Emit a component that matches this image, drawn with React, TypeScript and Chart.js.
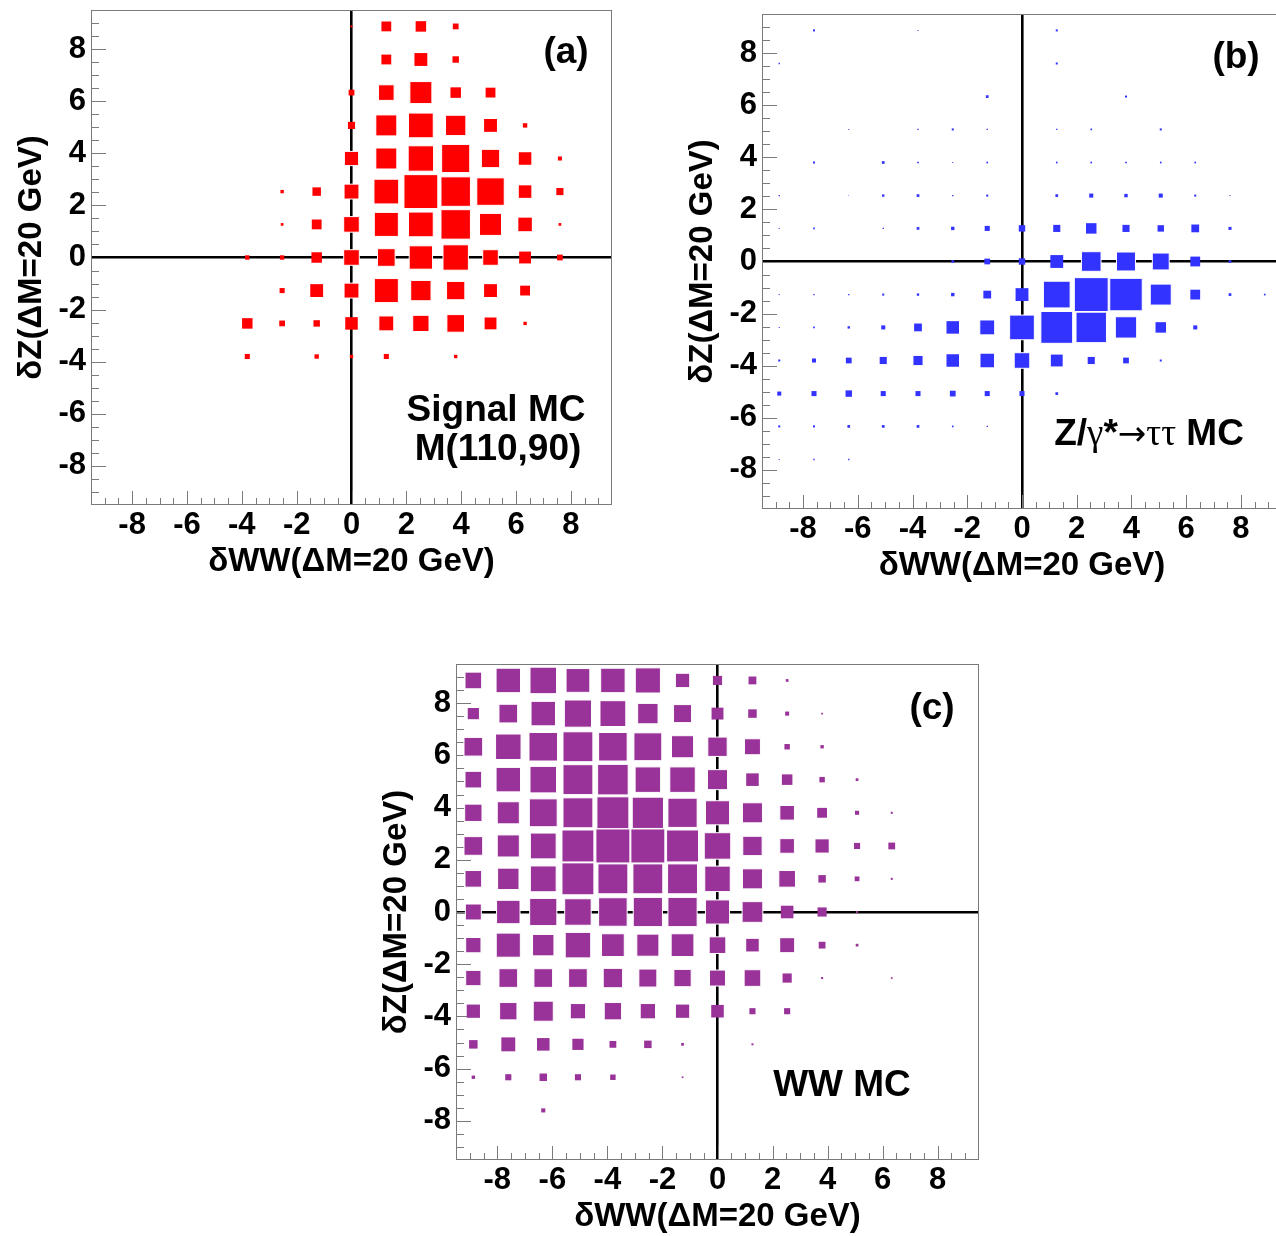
import React, { useEffect, useRef } from 'react';
import { Chart, registerables } from 'chart.js';

Chart.register(...registerables);

// ---- data -------------------------------------------------------------
// bin centres (15 bins from -9.5 to 9.5), left to right
const binCenters = [-8.87, -7.6, -6.33, -5.07, -3.8, -2.53, -1.27, 0, 1.27, 2.53, 3.8, 5.07, 6.33, 7.6, 8.87];
// row centres, top to bottom
const rowCenters = [8.87, 7.6, 6.33, 5.07, 3.8, 2.53, 1.27, 0, -1.27, -2.53, -3.8, -5.07, -6.33, -7.6, -8.87];
const binWidth = 1.267;
const axisMin = -9.5;
const axisMax = 9.5;
const tickValues = [-8, -6, -4, -2, 0, 2, 4, 6, 8];

// relative box size per bin (rows top->bottom, columns left->right)
const signalRows = [
  [0, 0, 0, 0, 0, 0, 0, 0.06, 0.29, 0.31, 0.17, 0, 0, 0, 0],
  [0, 0, 0, 0, 0, 0, 0, 0, 0.29, 0.38, 0.19, 0, 0, 0, 0],
  [0, 0, 0, 0, 0, 0, 0, 0.17, 0.46, 0.65, 0.31, 0.29, 0, 0, 0],
  [0, 0, 0, 0, 0, 0, 0, 0.21, 0.62, 0.73, 0.6, 0.38, 0.13, 0, 0],
  [0, 0, 0, 0, 0, 0, 0, 0.42, 0.62, 0.75, 0.83, 0.54, 0.37, 0.12, 0],
  [0, 0, 0, 0, 0, 0.1, 0.25, 0.44, 0.73, 1.0, 0.87, 0.81, 0.37, 0.21, 0],
  [0, 0, 0, 0, 0, 0.08, 0.29, 0.46, 0.71, 0.73, 0.87, 0.65, 0.4, 0.08, 0],
  [0, 0, 0, 0, 0.13, 0.13, 0.31, 0.46, 0.52, 0.69, 0.75, 0.46, 0.35, 0.17, 0],
  [0, 0, 0, 0, 0, 0.15, 0.38, 0.44, 0.71, 0.6, 0.54, 0.38, 0.29, 0, 0],
  [0, 0, 0, 0, 0.31, 0.17, 0.19, 0.37, 0.44, 0.48, 0.52, 0.35, 0.1, 0, 0],
  [0, 0, 0, 0, 0.15, 0, 0.13, 0.1, 0.15, 0, 0.1, 0, 0, 0, 0],
  [0, 0, 0, 0, 0, 0, 0, 0, 0, 0, 0, 0, 0, 0, 0],
  [0, 0, 0, 0, 0, 0, 0, 0, 0, 0, 0, 0, 0, 0, 0],
  [0, 0, 0, 0, 0, 0, 0, 0, 0, 0, 0, 0, 0, 0, 0],
  [0, 0, 0, 0, 0, 0, 0, 0, 0, 0, 0, 0, 0, 0, 0],
];

const zttRows = [
  [0, 0.06, 0, 0, 0.03, 0, 0, 0, 0.06, 0, 0, 0, 0, 0, 0],
  [0.04, 0, 0, 0, 0, 0, 0, 0, 0.06, 0, 0, 0, 0, 0, 0],
  [0, 0, 0, 0, 0, 0, 0.08, 0, 0, 0, 0.06, 0, 0, 0, 0],
  [0, 0, 0.03, 0, 0.04, 0.06, 0.04, 0, 0.04, 0.05, 0, 0.06, 0, 0, 0],
  [0, 0.06, 0, 0.08, 0.05, 0.03, 0.05, 0, 0.05, 0.05, 0.05, 0.05, 0.05, 0, 0],
  [0.04, 0, 0.02, 0.07, 0.08, 0.04, 0.06, 0, 0.08, 0.12, 0.1, 0.12, 0.06, 0.03, 0],
  [0.03, 0.05, 0, 0.04, 0.08, 0.1, 0.15, 0.19, 0.21, 0.31, 0.21, 0.19, 0.23, 0.09, 0],
  [0, 0, 0, 0, 0, 0.08, 0.17, 0.19, 0.38, 0.58, 0.56, 0.5, 0.29, 0.08, 0],
  [0.03, 0.04, 0.04, 0.06, 0.07, 0.1, 0.23, 0.38, 0.79, 1.0, 0.96, 0.62, 0.29, 0.08, 0.05],
  [0.03, 0.05, 0.07, 0.12, 0.23, 0.37, 0.44, 0.73, 0.94, 0.9, 0.63, 0.31, 0.12, 0, 0],
  [0.06, 0.12, 0.17, 0.21, 0.27, 0.37, 0.4, 0.46, 0.35, 0.21, 0.17, 0.06, 0, 0, 0],
  [0.12, 0.15, 0.19, 0.15, 0.15, 0.17, 0.15, 0.15, 0.08, 0, 0, 0, 0, 0, 0],
  [0.06, 0.06, 0.08, 0.08, 0.08, 0.05, 0.04, 0, 0, 0, 0, 0, 0, 0, 0],
  [0.03, 0.04, 0.04, 0, 0, 0, 0, 0, 0, 0, 0, 0, 0, 0, 0],
  [0, 0, 0, 0, 0, 0, 0, 0, 0, 0, 0, 0, 0, 0, 0],
];

const wwRows = [
  [0.49, 0.72, 0.78, 0.7, 0.72, 0.74, 0.39, 0.27, 0.23, 0.08, 0, 0, 0, 0, 0],
  [0.33, 0.55, 0.72, 0.8, 0.76, 0.6, 0.53, 0.35, 0.25, 0.12, 0.05, 0, 0, 0, 0],
  [0.55, 0.75, 0.84, 0.88, 0.84, 0.82, 0.65, 0.57, 0.47, 0.16, 0.1, 0, 0, 0, 0],
  [0.49, 0.72, 0.78, 0.88, 0.9, 0.75, 0.75, 0.59, 0.37, 0.31, 0.16, 0.08, 0, 0, 0],
  [0.51, 0.65, 0.82, 0.88, 0.94, 0.92, 0.86, 0.71, 0.59, 0.43, 0.29, 0.12, 0.06, 0, 0],
  [0.55, 0.65, 0.76, 0.94, 1.0, 1.0, 0.94, 0.78, 0.57, 0.43, 0.39, 0.18, 0.2, 0, 0],
  [0.49, 0.63, 0.76, 0.94, 0.88, 0.88, 0.88, 0.75, 0.59, 0.49, 0.22, 0.14, 0.06, 0, 0],
  [0.47, 0.69, 0.8, 0.78, 0.84, 0.86, 0.86, 0.71, 0.61, 0.37, 0.27, 0.06, 0, 0, 0],
  [0.45, 0.71, 0.63, 0.75, 0.67, 0.65, 0.67, 0.49, 0.37, 0.41, 0.2, 0.08, 0, 0, 0],
  [0.45, 0.55, 0.55, 0.55, 0.57, 0.53, 0.51, 0.47, 0.49, 0.27, 0.06, 0, 0.05, 0, 0],
  [0.39, 0.51, 0.59, 0.45, 0.51, 0.45, 0.39, 0.37, 0.18, 0.18, 0, 0, 0, 0, 0],
  [0.25, 0.41, 0.37, 0.33, 0.2, 0.22, 0.08, 0, 0.06, 0, 0, 0, 0, 0, 0],
  [0.1, 0.18, 0.22, 0.18, 0.16, 0, 0.05, 0, 0, 0, 0, 0, 0, 0, 0],
  [0, 0, 0.12, 0, 0, 0, 0, 0, 0, 0, 0, 0, 0, 0, 0],
  [0, 0, 0, 0, 0, 0, 0, 0, 0, 0, 0, 0, 0, 0, 0],
];

const xTitle = 'δWW(ΔM=20 GeV)';
const yTitle = 'δZ(ΔM=20 GeV)';

// ---- chart helpers --------------------------------------------------------
const FONT = '"Liberation Sans", Arial, Helvetica, sans-serif';
const Y_AXIS_W = 91;
const X_AXIS_H = 90;
const PAD_TOP = 10;
const PAD_RIGHT = 10;

const framePlugin = {
  id: 'rootFrame',
  beforeDatasetsDraw(chart: any) {
    const { ctx, chartArea: a, scales } = chart;
    ctx.save();
    ctx.strokeStyle = '#7a7a7a';
    ctx.lineWidth = 1;
    ctx.beginPath();
    for (let k = -18; k <= 18; k++) {
      const v = k * 0.5;
      const major = k % 4 === 0;
      const px = Math.round(scales.x.getPixelForValue(v)) + 0.5;
      ctx.moveTo(px, a.bottom);
      ctx.lineTo(px, a.bottom - (major ? 14 : 7));
      const py = Math.round(scales.y.getPixelForValue(v)) + 0.5;
      ctx.moveTo(a.left, py);
      ctx.lineTo(a.left + (major ? 15 : 8), py);
    }
    ctx.stroke();
    ctx.strokeRect(a.left + 0.5, a.top + 0.5, a.right - a.left - 1, a.bottom - a.top - 1);
    ctx.restore();
  },
};

const zeroColor = (c: any) => (c.tick && c.tick.value === 0 ? '#000000' : 'rgba(0,0,0,0)');
const zeroWidth = (c: any) => (c.tick && c.tick.value === 0 ? 2.6 : 0);

function sidePx(c: any): number {
  const chart = c.chart;
  const xs = chart.scales && chart.scales.x;
  const ys = chart.scales && chart.scales.y;
  if (!xs || !ys || !c.raw) return 0;
  const bw = Math.abs(xs.getPixelForValue(binWidth) - xs.getPixelForValue(0));
  const bh = Math.abs(ys.getPixelForValue(binWidth) - ys.getPixelForValue(0));
  return c.raw.v * Math.sqrt(bw * bh);
}

const zeroPadding = (s: any) => {
  s.paddingTop = 0;
  s.paddingBottom = 0;
  s.paddingLeft = 0;
  s.paddingRight = 0;
};

type PlotBox = { left: number; top: number; w: number; h: number };

function BoxPanel({ rows, color, plot }: { rows: number[][]; color: string; plot: PlotBox }) {
  const ref = useRef<HTMLCanvasElement>(null);
  const cw = Y_AXIS_W + plot.w + PAD_RIGHT;
  const ch = PAD_TOP + plot.h + X_AXIS_H;

  useEffect(() => {
    const points: { x: number; y: number; v: number }[] = [];
    rows.forEach((row, ri) =>
      row.forEach((v, ci) => {
        if (v > 0) points.push({ x: binCenters[ci], y: rowCenters[ri], v });
      })
    );
    const tickFont = { family: FONT, size: 31, weight: 'bold' as const, lineHeight: 1.2 };
    const titleFont = { family: FONT, size: 33, weight: 'bold' as const, lineHeight: 1.2 };
    const chart = new Chart(ref.current as HTMLCanvasElement, {
      type: 'scatter',
      data: {
        datasets: [
          {
            data: points as any,
            pointStyle: 'rect',
            pointBackgroundColor: color,
            pointBorderColor: '#ffffff',
            pointBorderWidth: (c: any) => (sidePx(c) > 14 ? 1 : 0),
            pointRadius: (c: any) => sidePx(c) / Math.SQRT2,
            pointHoverRadius: (c: any) => sidePx(c) / Math.SQRT2,
          } as any,
        ],
      },
      options: {
        animation: false,
        responsive: false,
        maintainAspectRatio: false,
        events: [],
        layout: { padding: { top: PAD_TOP, right: PAD_RIGHT, left: 0, bottom: 0 } },
        plugins: { legend: { display: false }, tooltip: { enabled: false } },
        scales: {
          x: {
            type: 'linear',
            position: 'bottom',
            min: axisMin,
            max: axisMax,
            z: 1,
            afterBuildTicks: (s: any) => {
              s.ticks = tickValues.map((v) => ({ value: v }));
            },
            afterFit: (s: any) => {
              s.height = X_AXIS_H;
              zeroPadding(s);
            },
            ticks: { font: tickFont, color: '#000', padding: 2, maxRotation: 0, autoSkip: false },
            grid: { drawTicks: false, color: zeroColor, lineWidth: zeroWidth },
            border: { display: false },
            title: {
              display: true,
              text: xTitle,
              font: titleFont,
              color: '#000',
              padding: { top: 0, bottom: 13 },
            },
          },
          y: {
            type: 'linear',
            position: 'left',
            min: axisMin,
            max: axisMax,
            z: 1,
            afterBuildTicks: (s: any) => {
              s.ticks = tickValues.map((v) => ({ value: v }));
            },
            afterFit: (s: any) => {
              s.width = Y_AXIS_W;
              zeroPadding(s);
            },
            ticks: { font: tickFont, color: '#000', padding: 5, autoSkip: false },
            grid: { drawTicks: false, color: zeroColor, lineWidth: zeroWidth },
            border: { display: false },
            title: {
              display: true,
              text: yTitle,
              font: titleFont,
              color: '#000',
              padding: { top: 12, bottom: 0 },
            },
          },
        },
      } as any,
      plugins: [framePlugin],
    });
    return () => chart.destroy();
  }, []);

  return (
    <canvas
      ref={ref}
      width={cw}
      height={ch}
      style={{
        position: 'absolute',
        left: plot.left - Y_AXIS_W,
        top: plot.top - PAD_TOP,
        width: cw,
        height: ch,
      }}
    />
  );
}

const labelStyle = (x: number, y: number): React.CSSProperties => ({
  position: 'absolute',
  left: x,
  top: y,
  transform: 'translate(-50%, -50%)',
  font: `bold 37px ${FONT}`,
  lineHeight: 1,
  whiteSpace: 'nowrap',
  color: '#000',
  textAlign: 'center',
});

const symStyle: React.CSSProperties = {
  fontFamily: '"Liberation Serif", "DejaVu Serif", serif',
  fontWeight: 'normal',
};
const arrowStyle: React.CSSProperties = {
  fontFamily: '"DejaVu Sans", sans-serif',
  fontWeight: 'normal',
  fontSize: 34,
};

export default function App() {
  return (
    <div
      style={{
        position: 'absolute',
        left: 0,
        top: 0,
        width: 1276,
        height: 1236,
        overflow: 'hidden',
        background: '#ffffff',
      }}
    >
      <BoxPanel rows={signalRows} color="#ff0000" plot={{ left: 91, top: 10, w: 521, h: 495 }} />
      <BoxPanel rows={zttRows} color="#3333ff" plot={{ left: 762, top: 14, w: 520, h: 495 }} />
      <BoxPanel rows={wwRows} color="#993399" plot={{ left: 456, top: 664, w: 523, h: 496 }} />

      <div style={labelStyle(566, 50)}>(a)</div>
      <div style={labelStyle(496, 408)}>Signal MC</div>
      <div style={labelStyle(498, 447)}>M(110,90)</div>

      <div style={labelStyle(1236, 55)}>(b)</div>
      <div style={labelStyle(1149, 432)}>
        Z/<span style={symStyle}>γ</span>*<span style={arrowStyle}>→</span>
        <span style={symStyle}>ττ</span> MC
      </div>

      <div style={labelStyle(932, 706)}>(c)</div>
      <div style={labelStyle(842, 1083)}>WW MC</div>
    </div>
  );
}
